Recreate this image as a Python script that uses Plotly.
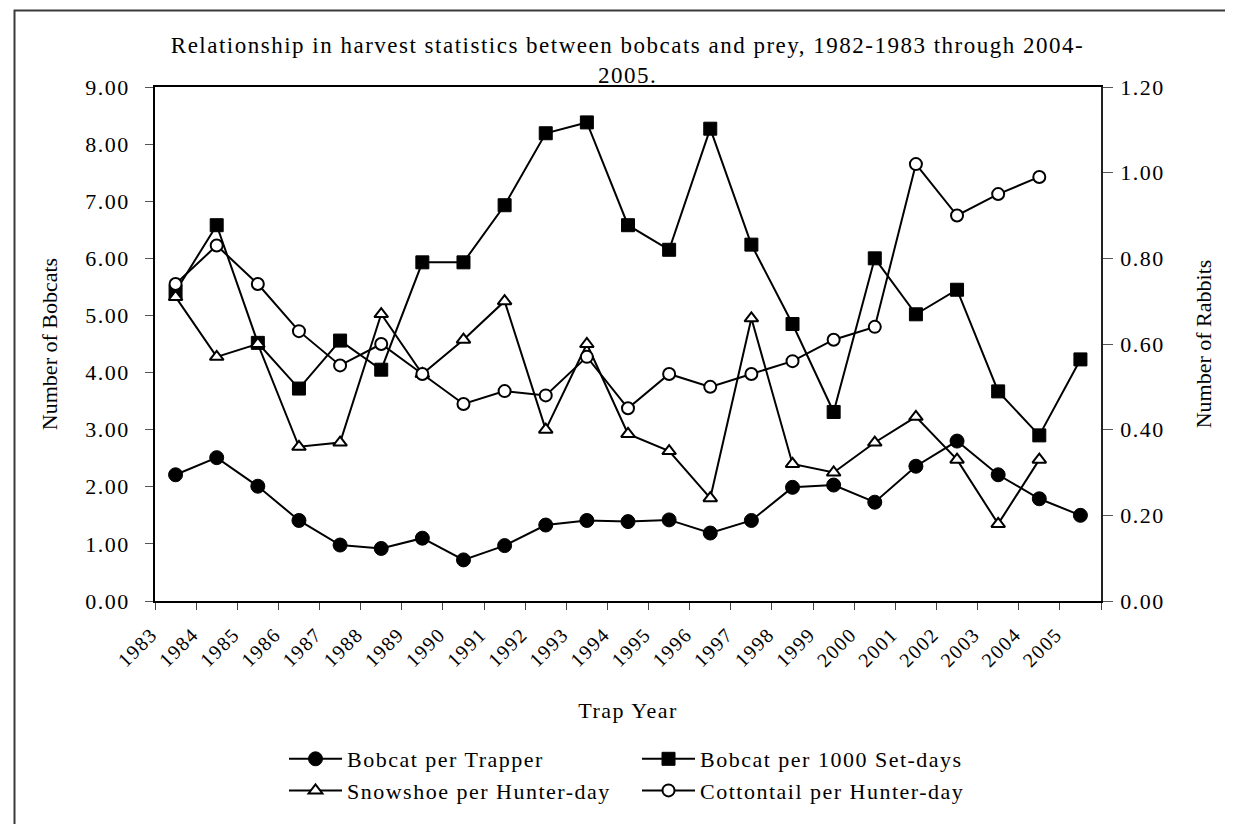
import plotly.graph_objects as go

years = [str(y) for y in range(1983, 2006)]

bobcat_per_trapper = [2.21, 2.51, 2.01, 1.41, 0.98, 0.92, 1.10, 0.72, 0.97, 1.33, 1.41, 1.39,
                      1.42, 1.19, 1.41, 1.99, 2.03, 1.73, 2.36, 2.80, 2.21, 1.79, 1.50]
bobcat_per_1000_setdays = [5.42, 6.58, 4.52, 3.72, 4.56, 4.05, 5.93, 5.93, 6.93, 8.19, 8.38, 6.58,
                           6.15, 8.27, 6.24, 4.85, 3.31, 6.00, 5.02, 5.45, 3.67, 2.90, 4.23]
snowshoe_per_hunterday = [0.71, 0.57, 0.60, 0.36, 0.37, 0.67, 0.53, 0.61, 0.70, 0.40, 0.60, 0.39,
                          0.35, 0.24, 0.66, 0.32, 0.30, 0.37, 0.43, 0.33, 0.18, 0.33]
cottontail_per_hunterday = [0.74, 0.83, 0.74, 0.63, 0.55, 0.60, 0.53, 0.46, 0.49, 0.48, 0.57, 0.45,
                            0.53, 0.50, 0.53, 0.56, 0.61, 0.64, 1.02, 0.90, 0.95, 0.99]

W, H = 1233, 824
L, R, T, B = 147, 140, 79, 231
pw, ph = W - L - R, H - T - B


def px_to_paper_x(p):
    return (p - L) / pw


def px_to_paper_y(p):
    return (T + ph - p) / ph


FONT = "Liberation Serif, Times New Roman, serif"
BLK = "#000000"

fig = go.Figure()

fig.add_trace(go.Scatter(
    x=years, y=bobcat_per_trapper, name="Bobcat per Trapper", mode="lines+markers",
    line=dict(color=BLK, width=2),
    marker=dict(symbol="circle", size=14, color=BLK, line=dict(color=BLK, width=1)),
    yaxis="y"))
fig.add_trace(go.Scatter(
    x=years, y=bobcat_per_1000_setdays, name="Bobcat per 1000 Set-days", mode="lines+markers",
    line=dict(color=BLK, width=2),
    marker=dict(symbol="square", size=13, color=BLK, line=dict(color=BLK, width=1)),
    yaxis="y"))
fig.add_trace(go.Scatter(
    x=years[:len(snowshoe_per_hunterday)], y=snowshoe_per_hunterday, name="Snowshoe per Hunter-day",
    mode="lines+markers", line=dict(color=BLK, width=2),
    marker=dict(symbol="triangle-up", size=12, color="white", line=dict(color=BLK, width=2)),
    yaxis="y2"))
fig.add_trace(go.Scatter(
    x=years[:len(cottontail_per_hunterday)], y=cottontail_per_hunterday, name="Cottontail per Hunter-day",
    mode="lines+markers", line=dict(color=BLK, width=2),
    marker=dict(symbol="circle", size=12, color="white", line=dict(color=BLK, width=2)),
    yaxis="y2"))

# figure border (open at the bottom edge, as in the reference)
fig.add_shape(type="rect", xref="paper", yref="paper",
              x0=px_to_paper_x(6.5), x1=px_to_paper_x(1231.5),
              y0=px_to_paper_y(840), y1=px_to_paper_y(2.5),
              line=dict(color="#3a3a3a", width=2), fillcolor="rgba(0,0,0,0)", layer="above")

fig.update_layout(
    width=W, height=H,
    margin=dict(l=L, r=R, t=T, b=B, autoexpand=False),
    paper_bgcolor="white", plot_bgcolor="white",
    font=dict(family=FONT, size=22, color=BLK),
    title=dict(
        text="Relationship in harvest statistics between bobcats and prey, 1982-1983 through 2004-<br>2005.",
        x=619.5 / W, xanchor="center", xref="container",
        y=1 - 45 / H, yanchor="top", yref="container",
        font=dict(family=FONT, size=23, color=BLK)),
    showlegend=True,
    legend=dict(
        orientation="h", x=px_to_paper_x(276), xanchor="left",
        y=px_to_paper_y(730), yanchor="top",
        font=dict(family=FONT, size=22, color=BLK),
        entrywidth=285, entrywidthmode="pixels", itemwidth=53,
        bgcolor="rgba(0,0,0,0)", tracegroupgap=0, traceorder="normal"),
    xaxis=dict(
        type="category", range=[-0.5, 22.5], tickson="boundaries",
        ticks="outside", ticklen=7, tickwidth=1, tickcolor="#444",
        showline=True, linecolor=BLK, linewidth=1.5, mirror=True,
        showgrid=False, zeroline=False, tickangle=-45,
        ticklabelshift=-24, ticklabelstandoff=12,
        tickfont=dict(family=FONT, size=20, color=BLK),
        title=dict(text="Trap Year", font=dict(family=FONT, size=22, color=BLK), standoff=37),
        automargin=False),
    yaxis=dict(
        range=[0, 9], dtick=1, tick0=0, tickformat=".2f",
        ticks="outside", ticklen=8, tickwidth=1, tickcolor="#555",
        showline=True, linecolor=BLK, linewidth=1.5,
        showgrid=False, zeroline=False, ticklabelstandoff=11,
        tickfont=dict(family=FONT, size=22, color=BLK),
        title=dict(text="Number of Bobcats", font=dict(family=FONT, size=22, color=BLK), standoff=28),
        automargin=False),
    yaxis2=dict(
        range=[0, 1.2], dtick=0.2, tick0=0, tickformat=".2f",
        overlaying="y", side="right",
        ticks="outside", ticklen=10, tickwidth=1, tickcolor="#555",
        showline=True, linecolor="#222", linewidth=1.5,
        showgrid=False, zeroline=False, ticklabelstandoff=3,
        tickfont=dict(family=FONT, size=22, color=BLK),
        title=dict(text="Number of Rabbits", font=dict(family=FONT, size=22, color=BLK), standoff=38),
        automargin=False),
)

post = """
var gd = document.getElementById('{plot_id}');
function spaceText(){
  gd.querySelectorAll('.gtitle, .xtick text, .ytick text, .y2tick text, .legendtext, .xtitle').forEach(function(e){
    e.style.letterSpacing = '1.5px';
  });
}
spaceText();
if (gd.on) { gd.on('plotly_afterplot', spaceText); }
"""

fig.write_html("out.html", post_script=post)
